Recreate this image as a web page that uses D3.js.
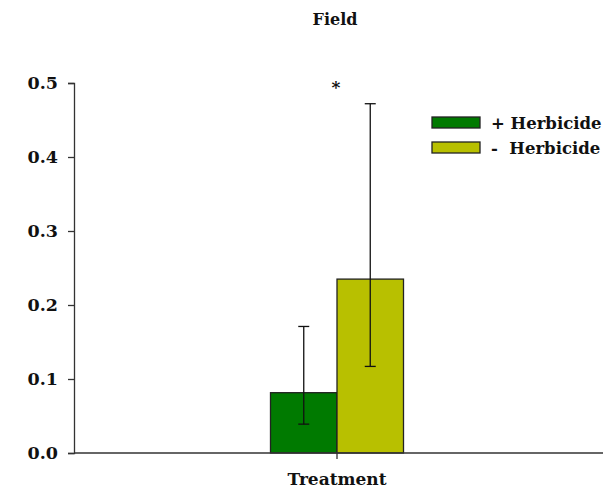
<!DOCTYPE html>
<html>
<head>
<meta charset="utf-8">
<script src="https://cdn.jsdelivr.net/npm/d3@7"></script>
<style>
  html, body { margin: 0; padding: 0; background: #fff; }
  svg text { font-family: "DejaVu Serif", serif; font-weight: bold; fill: #111; }
</style>
</head>
<body>
<svg id="chart" width="603" height="494"></svg>
<script>
// Field measurements: one treatment group, with and without herbicide
const categories = ["Treatment"];
const seriesNames = ["+ Herbicide", "-  Herbicide"];
const seriesColors = ["#007a00", "#b8c000"];
const means = [0.0815, 0.235];
const errLow = [0.039, 0.117];
const errHigh = [0.171, 0.472];
const yTicks = [0.0, 0.1, 0.2, 0.3, 0.4, 0.5];
const significance = ["*"];

const svg = d3.select("#chart");
const margin = { left: 74, right: 0, top: 83, bottom: 41 };
const W = 603, H = 494;

const y = d3.scaleLinear().domain([0, 0.5]).range([H - margin.bottom, margin.top]);
const x = d3.scaleBand().domain(categories).range([margin.left, 600]);
const xs = d3.scaleBand().domain(seriesNames).range([-66.5, 66.5]);

// Title
svg.append("text").attr("x", 335).attr("y", 25).attr("text-anchor", "middle")
  .style("font-size", "16px").text("Field");

// Y axis
const yAxis = svg.append("g").attr("transform", `translate(${margin.left},0)`)
  .call(d3.axisLeft(y).tickValues(yTicks).tickFormat(d3.format(".1f")).tickSizeOuter(0).tickSize(6).tickPadding(10));
yAxis.select(".domain").attr("stroke", "#333").attr("stroke-width", 1.3);
yAxis.selectAll(".tick line").attr("stroke", "#333").attr("stroke-width", 1.3);
yAxis.selectAll(".tick text").style("font-size", "17.5px").style("font-family", "DejaVu Serif, serif")
  .attr("fill", "#111").attr("font-weight", "bold");

// Bars
const cx = x("Treatment") + x.bandwidth() / 2;
const barData = seriesNames.map((s, i) => ({ s, v: means[i], lo: errLow[i], hi: errHigh[i], c: seriesColors[i] }));
svg.selectAll("rect.bar").data(barData).join("rect").attr("class", "bar")
  .attr("x", d => cx + xs(d.s))
  .attr("width", xs.bandwidth())
  .attr("y", d => y(d.v))
  .attr("height", d => y(0) - y(d.v))
  .attr("fill", d => d.c).attr("stroke", "#222").attr("stroke-width", 1.3);

// X axis
const xAxis = svg.append("g").attr("transform", `translate(0,${y(0)})`)
  .call(d3.axisBottom(x).tickSizeOuter(0).tickSize(6).tickPadding(14));
xAxis.select(".domain").attr("stroke", "#333").attr("stroke-width", 1.3)
  .attr("d", `M${margin.left},0H${W}`);
xAxis.selectAll(".tick line").attr("stroke", "#333").attr("stroke-width", 1.3);
xAxis.selectAll(".tick text").style("font-size", "17px").style("font-family", "DejaVu Serif, serif")
  .attr("fill", "#111").attr("font-weight", "bold");

// Error bars
const cap = 5.5;
const eb = svg.selectAll("g.err").data(barData).join("g").attr("class", "err")
  .attr("transform", d => `translate(${cx + xs(d.s) + xs.bandwidth() / 2},0)`);
eb.append("line").attr("y1", d => y(d.lo)).attr("y2", d => y(d.hi)).attr("stroke", "#111").attr("stroke-width", 1.3);
eb.append("line").attr("x1", -cap).attr("x2", cap).attr("y1", d => y(d.hi)).attr("y2", d => y(d.hi)).attr("stroke", "#111").attr("stroke-width", 1.3);
eb.append("line").attr("x1", -cap).attr("x2", cap).attr("y1", d => y(d.lo)).attr("y2", d => y(d.lo)).attr("stroke", "#111").attr("stroke-width", 1.3);

// Significance marker
svg.append("text").attr("x", cx - 1).attr("y", 93).attr("text-anchor", "middle")
  .style("font-size", "17px").text(significance[0]);

// Legend
const lg = svg.append("g").attr("transform", "translate(432,117)");
const items = lg.selectAll("g").data(barData).join("g").attr("transform", (d, i) => `translate(0,${i * 25})`);
items.append("rect").attr("width", 48).attr("height", 11).attr("fill", d => d.c).attr("stroke", "#222").attr("stroke-width", 1.3);
items.append("text").attr("x", 59).attr("y", 12).style("font-size", "16.5px").style("white-space", "pre")
  .attr("xml:space", "preserve").text(d => d.s);
</script>
</body>
</html>
